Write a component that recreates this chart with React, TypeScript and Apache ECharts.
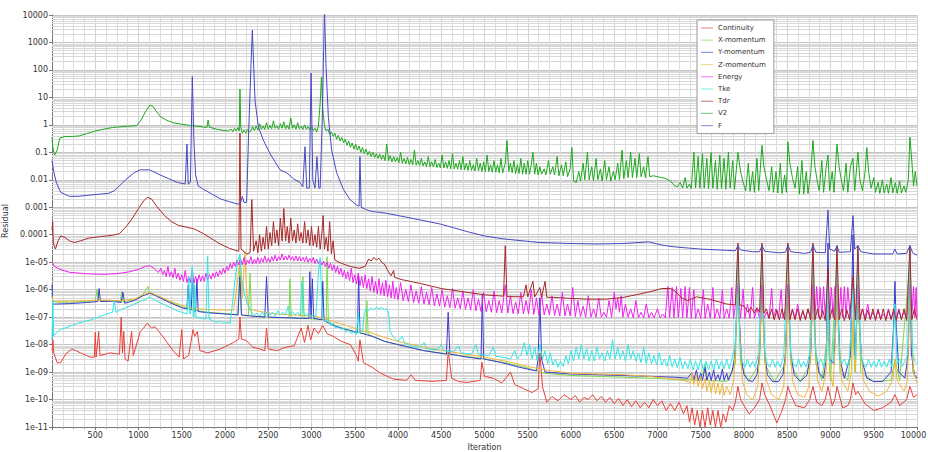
import React, { useEffect, useRef } from "react";
import * as echarts from "echarts";

type P = [number, number];

const seriesNames = ["Continuity", "X-momentum", "Y-momentum", "Z-momentum", "Energy", "Tke", "Tdr", "V2", "F"];
const seriesColors = ["#e8403a", "#7ad84a", "#3a3acc", "#f2b43a", "#ee22ee", "#30e6e6", "#a82828", "#1fa81f", "#4848c0"];

const continuity: P[] = [
  [0,6e-9],[10,1.5e-8],[20,5e-9],[60,2.2e-9],[100,2.2e-9],[160,4.6e-9],[230,7e-9],[330,5e-9],[440,3.5e-9],[490,3.5e-9],[500,2.8e-8],[510,3.5e-9],[540,3e-8],[555,4e-9],[670,5e-9],[780,4.5e-9],[800,1e-7],[815,5e-9],[830,3e-8],[845,3e-9],[880,2.5e-9],[920,3e-8],[940,4e-9],[1020,3e-8],[1060,4e-8],[1100,6e-8],[1150,4e-8],[1190,4.5e-8],[1280,2e-8],[1400,6e-9],[1470,3.5e-9],[1500,3.5e-8],[1520,3e-9],[1580,4e-9],[1630,3.5e-8],[1650,2e-8],[1680,3e-8],[1710,6e-9],[1800,5e-9],[1950,7e-9],[2100,1.2e-8],[2160,1.6e-8],[2173,1e-7],[2190,1.6e-8],[2250,1.4e-8],[2320,8e-9],[2400,7e-9],[2460,6e-9],[2480,4e-8],[2500,7e-9],[2600,6e-9],[2700,8e-9],[2800,9e-9],[2880,4e-8],[2920,1.2e-8],[2960,5e-8],[2990,1.5e-8],[3030,4e-8],[3080,2.5e-8],[3130,5e-8],[3180,2.5e-8],[3250,2e-8],[3350,1.3e-8],[3450,1e-8],[3520,4e-9],[3540,2.5e-9],[3560,1.5e-8],[3600,2.2e-9],[3700,1.5e-9],[3800,9e-10],[3950,5.5e-10],[4100,5e-10],[4150,8e-10],[4200,5e-10],[4400,4.6e-10],[4560,5e-10],[4580,6e-9],[4620,6e-10],[4700,4.5e-10],[4800,4.2e-10],[4950,5e-10],[4970,2.3e-9],[5000,7e-10],[5100,6e-10],[5200,4e-10],[5300,1e-9],[5350,3.5e-10],[5450,2.5e-10],[5550,1.8e-10],[5620,2.5e-10],[5640,5e-9],[5670,3e-10],[5720,8e-11],[5780,1.3e-10],[5850,9e-11],[5920,1.5e-10],[6000,1e-10],[6050,1.4e-10],[6100,8e-11],[6150,1.2e-10],[6200,1e-10],[6250,1.5e-10],[6300,9e-11],[6350,1.3e-10],[6400,8e-11],[6450,1.2e-10],[6500,7e-11],[6550,1.1e-10],[6600,6e-11],[6650,1e-10],[6700,5.5e-11],[6750,9e-11],[6800,5e-11],[6850,8e-11],[6900,5e-11],[6950,1e-10],[7000,6e-11],[7050,9e-11],[7100,4e-11],[7150,7e-11],[7200,4e-11],[7250,8e-11],[7300,3e-11],[7340,6e-11],[7370,1.5e-11],[7400,5e-11],[7430,1.2e-11],[7460,4e-11],[7490,1e-11],[7520,4e-11],[7550,1e-11],[7580,5e-11],[7610,1.2e-11],[7640,4e-11],[7670,1e-11],[7700,4e-11],[7730,1e-11],[7760,3e-11],[7790,1.5e-11],[7830,6e-11],[7870,4e-11],[7900,8e-11],[7930,3e-10],[7960,1e-10],[8000,6e-11],[8060,3e-11],[8120,5e-11],[8180,1e-10],[8208,4e-10],[8240,1.5e-10],[8300,6e-11],[8380,1.4e-11],[8440,4e-11],[8480,1e-10],[8508,3e-10],[8540,1.5e-10],[8600,6e-11],[8700,5e-11],[8760,1e-10],[8797,3e-10],[8840,8e-11],[8900,6e-11],[8940,1e-10],[8971,3e-10],[9020,6e-11],[9050,1e-10],[9075,3e-10],[9140,5e-11],[9200,6e-11],[9230,1e-10],[9260,4e-10],[9290,1.5e-10],[9317,2e-10],[9400,7e-11],[9500,4e-11],[9600,5e-11],[9700,8e-11],[9745,1.5e-10],[9800,6e-11],[9880,1e-10],[9918,3e-10],[9960,1.2e-10],[10000,1.5e-10]
];

const xMomentum: P[] = [
  [0,8e-7],[8,4e-7],[50,3.5e-7],[200,3.5e-7],[400,3.7e-7],[500,4e-7],[520,1e-6],[535,4e-7],[700,4e-7],[790,3.7e-7],[805,9e-7],[820,3.6e-7],[950,4.2e-7],[1050,6.5e-7],[1110,1.3e-6],[1125,8e-7],[1200,6.3e-7],[1350,3.7e-7],[1500,2.4e-7],[1600,1.9e-7],[1800,1.5e-7],[2000,1.35e-7],[2150,1.25e-7],[2173,1.6e-5],[2190,1.2e-7],[2270,1.1e-7],[2290,4e-6],[2305,1.1e-7],[2500,1e-7],[2740,9.5e-8],[2750,2.5e-6],[2765,9.5e-8],[2890,9e-8],[2900,3e-6],[2915,9e-8],[3170,8e-8],[3180,1.6e-5],[3195,7e-8],[3300,4.5e-8],[3500,3e-8],[3630,2.4e-8],[3640,4e-7],[3655,2.4e-8],[3850,1.3e-8],[4000,1e-8],[4300,6e-9],[4600,4.5e-9],[5000,3e-9],[5300,2e-9],[5500,1.4e-9],[5700,9e-10],[6000,7.5e-10],[6300,7e-10],[6600,6.5e-10],[6900,6e-10],[7200,5.5e-10],[7500,5e-10],[7550,2e-9],[7580,5e-10],[7800,4.5e-10],[7900,2e-9],[7930,1e-5],[7960,2e-9],[8050,4.5e-10],[8180,2e-9],[8208,1e-5],[8240,2e-9],[8350,4.5e-10],[8480,2e-9],[8508,1e-5],[8540,2e-9],[8650,4.5e-10],[8770,2e-9],[8797,1e-5],[8830,2e-9],[8900,5e-10],[8971,3e-8],[9000,5e-10],[9075,1e-5],[9110,1e-9],[9200,5e-10],[9260,3e-8],[9290,1e-9],[9317,5e-6],[9350,1e-9],[9500,4.5e-10],[9700,5e-10],[9745,3e-9],[9800,5e-10],[9918,1e-5],[9950,1e-9],[10000,6e-10]
];

const yMomentum: P[] = [
  [0,1.5e-6],[8,3e-7],[50,3e-7],[200,3.1e-7],[400,3.4e-7],[530,3.7e-7],[545,1.1e-6],[560,3.7e-7],[700,3.8e-7],[800,3.4e-7],[820,8e-7],[840,3.2e-7],[950,4e-7],[1050,6e-7],[1130,7.5e-7],[1200,6e-7],[1350,3.5e-7],[1500,2.2e-7],[1560,2e-7],[1575,1.5e-6],[1590,2e-7],[1610,1.8e-7],[1625,4.5e-6],[1640,1.7e-7],[1660,1.6e-7],[1675,2.5e-6],[1690,1.6e-7],[1800,1.45e-7],[2000,1.3e-7],[2150,1.2e-7],[2173,3e-6],[2190,1.2e-7],[2300,1.1e-7],[2460,1e-7],[2480,3e-6],[2500,1e-7],[2700,9.5e-8],[2900,9e-8],[2970,9e-8],[2980,4.5e-6],[2995,9e-8],[3010,2.5e-6],[3025,9e-8],[3120,8e-8],[3130,2e-6],[3145,7.5e-8],[3250,5e-8],[3400,3.5e-8],[3530,2.8e-8],[3545,3e-6],[3560,2.7e-8],[3700,2e-8],[3850,1.3e-8],[4000,1e-8],[4300,6e-9],[4560,4.5e-9],[4580,1.5e-7],[4600,4.5e-9],[4800,3.5e-9],[4960,3e-9],[4975,7e-7],[4990,3e-9],[5200,2.2e-9],[5400,1.5e-9],[5600,1.1e-9],[5620,3e-9],[5640,5e-7],[5660,3e-9],[5700,1e-9],[6000,8.5e-10],[6300,8e-10],[6600,7.5e-10],[6900,7e-10],[7200,6.5e-10],[7350,6e-10],[7400,1e-9],[7420,5e-10],[7450,1.2e-9],[7470,5e-10],[7500,9e-10],[7520,5e-10],[7550,1.5e-9],[7570,5e-10],[7600,1e-9],[7620,5e-10],[7650,1.2e-9],[7670,5e-10],[7700,8e-10],[7720,5e-10],[7750,1.3e-9],[7770,5e-10],[7800,9e-10],[7820,5e-10],[7860,1e-9],[7890,3e-9],[7915,1e-7],[7930,3e-5],[7945,1e-7],[7970,3e-9],[8000,8e-10],[8050,5e-10],[8100,4.5e-10],[8150,8e-10],[8180,5e-9],[8198,2e-7],[8208,2e-5],[8218,2e-7],[8240,5e-9],[8270,8e-10],[8330,4.5e-10],[8400,4.5e-10],[8450,8e-10],[8480,5e-9],[8498,2e-7],[8508,2e-5],[8518,2e-7],[8540,5e-9],[8580,8e-10],[8650,4.5e-10],[8730,8e-10],[8770,5e-9],[8787,2e-7],[8797,2e-5],[8807,2e-7],[8830,5e-9],[8870,9e-10],[8920,6e-10],[8950,3e-9],[8971,5e-5],[8990,3e-9],[9040,2e-9],[9065,2e-7],[9075,1e-5],[9085,2e-7],[9110,3e-9],[9160,6e-10],[9230,4e-9],[9260,1e-4],[9280,4e-9],[9305,1e-7],[9317,1e-5],[9330,1e-7],[9360,3e-9],[9420,6e-10],[9500,4.5e-10],[9600,4.5e-10],[9700,1e-9],[9730,5e-8],[9745,2e-6],[9760,5e-8],[9790,1e-9],[9860,6e-10],[9900,5e-9],[9918,2e-5],[9935,5e-9],[9970,8e-10],[10000,6e-10]
];

const zMomentum: P[] = [
  [0,6e-7],[8,4e-7],[50,3.8e-7],[200,3.8e-7],[400,4e-7],[600,4.2e-7],[800,4e-7],[950,4.5e-7],[1050,6.5e-7],[1130,8e-7],[1200,6.5e-7],[1350,4e-7],[1500,2.7e-7],[1600,2.2e-7],[1700,2e-7],[1800,1.9e-7],[2000,1.8e-7],[2100,1.8e-7],[2173,1e-5],[2200,5e-7],[2230,2.5e-5],[2250,8e-7],[2280,2e-7],[2400,1.6e-7],[2600,1.3e-7],[2800,1.2e-7],[3000,1.1e-7],[3100,1e-7],[3250,7e-8],[3400,5e-8],[3550,3.5e-8],[3700,2.6e-8],[3850,1.8e-8],[4000,1.3e-8],[4300,8e-9],[4600,5.5e-9],[5000,3.5e-9],[5300,2.3e-9],[5500,1.6e-9],[5700,1.2e-9],[6000,9e-10],[6300,8.5e-10],[6600,8e-10],[6900,7e-10],[7100,6e-10],[7300,5e-10],[7380,4e-10],[7400,1e-9],[7420,3.5e-10],[7450,8e-10],[7470,3e-10],[7500,7e-10],[7520,2.5e-10],[7550,6e-10],[7570,2e-10],[7600,5e-10],[7620,1.8e-10],[7650,5e-10],[7670,1.6e-10],[7700,4e-10],[7720,1.5e-10],[7750,4e-10],[7770,1.4e-10],[7800,3e-10],[7840,1.5e-10],[7880,5e-10],[7910,3e-8],[7930,1e-5],[7950,3e-8],[7980,5e-10],[8030,1.5e-10],[8100,1e-10],[8160,3e-10],[8190,3e-8],[8208,1e-5],[8225,3e-8],[8260,5e-10],[8320,1.5e-10],[8400,1e-10],[8460,3e-10],[8490,3e-8],[8508,1e-5],[8525,3e-8],[8560,5e-10],[8620,1.5e-10],[8700,1.2e-10],[8750,3e-10],[8780,3e-8],[8797,1e-5],[8815,3e-8],[8850,5e-10],[8900,2e-10],[8950,1e-9],[8971,1e-7],[8990,1e-9],[9030,3e-10],[9060,3e-8],[9075,1e-5],[9090,3e-8],[9130,5e-10],[9200,2e-10],[9240,1e-9],[9260,1e-7],[9280,1e-9],[9300,3e-8],[9317,1e-5],[9335,3e-8],[9380,5e-10],[9450,2e-10],[9550,1.3e-10],[9650,2e-10],[9720,5e-10],[9745,3e-9],[9770,5e-10],[9850,2e-10],[9890,5e-10],[9905,3e-8],[9918,1e-5],[9935,3e-8],[9960,1e-9],[10000,4e-10]
];

const energy: P[] = [
  [0,1e-5],[30,7e-6],[90,5.5e-6],[200,4.3e-6],[400,3.8e-6],[600,3.6e-6],[800,4e-6],[900,4.5e-6],[1000,5.5e-6],[1080,7e-6],[1130,7.5e-6],[1180,6e-6],[1230,4.2e-6],
  [1260,6e-6],[1280,3.5e-6],[1300,5e-6],[1320,3e-6],[1340,7e-6],[1360,3e-6],[1380,4.5e-6],[1400,2.7e-6],[1420,6e-6],[1440,2.5e-6],[1460,4e-6],[1480,2.2e-6],[1500,3.5e-6],[1520,2e-6],[1540,5e-6],[1560,1.8e-6],[1580,3e-6],[1600,1.8e-6],[1620,5e-6],[1640,1.7e-6],[1660,3e-6],[1680,1.8e-6],[1700,3.5e-6],[1720,2e-6],[1740,3.2e-6],[1760,2e-6],[1780,4e-6],[1800,2.2e-6],[1820,3.5e-6],[1840,2.4e-6],[1860,4e-6],[1880,2.7e-6],[1900,4.5e-6],[1920,3e-6],[1940,5e-6],[1960,3.5e-6],[1980,6e-6],[2000,4e-6],[2020,7e-6],[2040,5e-6],[2060,9e-6],[2080,6e-6],[2100,1e-5],[2120,7e-6],[2140,1.2e-5],[2160,8e-6],
  [2180,1.3e-5],[2200,8e-6],[2220,1.5e-5],[2240,8e-6],[2260,1.2e-5],[2280,9e-6],[2300,1.6e-5],[2320,8.5e-6],[2340,1.3e-5],[2360,9e-6],[2380,1.5e-5],[2400,9e-6],[2420,1.4e-5],[2440,1e-5],[2460,1.7e-5],[2480,1e-5],[2500,1.4e-5],[2520,1e-5],[2540,1.6e-5],[2560,1.1e-5],[2580,1.8e-5],[2600,1.1e-5],[2620,1.6e-5],[2640,1.2e-5],[2660,2e-5],[2680,1.2e-5],[2700,1.7e-5],[2720,1.2e-5],[2740,1.8e-5],[2760,1.2e-5],[2780,1.6e-5],[2800,1.1e-5],[2820,1.7e-5],[2840,1.1e-5],[2860,1.6e-5],[2880,1.1e-5],[2900,1.5e-5],[2920,1.05e-5],[2940,1.6e-5],[2960,1e-5],[2980,1.4e-5],[3000,1e-5],[3020,1.5e-5],[3040,9e-6],[3060,1.3e-5],[3080,9e-6],[3100,1.2e-5],[3120,8e-6],[3140,1.1e-5],[3160,7e-6],[3180,1e-5],[3200,6e-6],[3220,9e-6],[3240,5e-6],[3260,8e-6],[3280,4.2e-6],[3300,7e-6],[3320,3.6e-6],[3340,6e-6],[3360,3e-6],[3380,5e-6],[3400,2.5e-6],[3420,4.5e-6],[3440,2.1e-6],[3460,6e-6],[3480,1.8e-6],[3500,3.5e-6],[3520,1.6e-6],[3540,4e-6],[3560,1.4e-6],[3580,3e-6],[3600,1.2e-6],[3620,3.5e-6],[3640,1.1e-6],[3660,2.5e-6],[3680,9e-7],[3700,3e-6],[3720,8e-7],[3740,2e-6],[3760,7e-7],[3780,2.5e-6],[3800,6.5e-7],[3820,1.8e-6],[3840,6e-7],[3860,2.2e-6],[3880,5.5e-7],[3900,1.5e-6],[3920,5e-7],[3940,2e-6],[3960,4.6e-7],[3980,1.2e-6],[4000,4.3e-7],[4030,1.8e-6],[4060,4e-7],[4090,1e-6],[4120,3.7e-7],[4150,1.5e-6],[4180,3.4e-7],[4210,9e-7],[4240,3.2e-7],[4270,1.3e-6],[4300,3e-7],[4330,8e-7],[4360,2.8e-7],[4390,1.2e-6],[4420,2.6e-7],[4450,7e-7],[4480,2.5e-7],[4510,1e-6],[4540,2.3e-7],[4570,6e-7],[4600,2.2e-7],[4630,1.1e-6],[4660,2.1e-7],[4690,5e-7],[4720,2e-7],[4750,9e-7],[4780,1.9e-7],[4810,5e-7],[4840,1.8e-7],[4870,1e-6],[4900,1.7e-7],[4930,4.5e-7],[4960,1.6e-7],[4990,8e-7],[5020,1.55e-7],[5050,4e-7],[5080,1.5e-7],[5110,9e-7],[5140,1.45e-7],[5170,4e-7],[5200,1.4e-7],[5240,1.5e-6],[5270,1.4e-7],[5300,6e-7],[5330,1.35e-7],[5360,3.5e-7],[5390,1.3e-7],[5420,8e-7],[5450,1.3e-7],[5480,4e-7],[5510,1.3e-7],[5540,1e-6],[5570,1.25e-7],[5600,5e-7],[5630,1.2e-7],[5660,7e-7],[5690,1.2e-7],[5720,3e-7],[5750,1.2e-7],[5780,6e-7],[5810,1.15e-7],[5840,3e-7],[5870,1.1e-7],[5900,8e-7],[5930,1.1e-7],[5960,3e-7],[5990,1.1e-7],[6020,1.2e-6],[6050,1.05e-7],[6080,4e-7],[6110,1.05e-7],[6140,2.5e-7],[6170,1e-7],[6200,6e-7],[6230,1e-7],[6260,2e-7],[6290,1e-7],[6320,5e-7],[6350,1e-7],[6380,1.5e-7],[6410,1e-7],[6440,4e-7],[6470,1e-7],[6500,8e-7],[6520,2e-7],[6540,5e-7],[6560,1.5e-7],[6580,6e-7],[6600,1e-7],[6630,3e-7],[6660,1e-7],[6690,2e-7],[6720,9.5e-8],[6750,4e-7],[6780,9.5e-8],[6810,1.5e-7],[6840,9.5e-8],[6870,3e-7],[6900,9.5e-8],[6930,1.5e-7],[6960,9.5e-8],[7000,2e-7],[7030,9.5e-8],[7060,1.3e-7],[7090,9.5e-8],[7120,1.3e-6],[7140,9.5e-8],[7170,1.2e-6],[7190,9.5e-8],[7220,1.3e-6],[7240,9.5e-8],[7270,1.1e-6],[7290,9.5e-8],[7320,1.3e-6],[7340,9.5e-8],[7370,1.2e-6],[7390,9e-8],[7420,1e-6],[7440,9e-8],[7470,2e-7],[7500,9e-8],[7530,1e-6],[7550,9e-8],[7580,3e-7],[7610,9e-8],[7640,1.2e-6],[7660,9e-8],[7690,2e-7],[7720,9e-8],[7750,1e-6],[7770,9e-8],[7800,2e-7],[7830,9e-8],[7860,1.2e-6],[7880,9e-8],[7930,1.5e-6],[7960,9e-8],[7990,1e-6],[8010,9e-8],[8040,3e-7],[8070,9e-8],[8100,1.2e-6],[8120,9e-8],[8150,2e-7],[8180,9e-8],[8208,1.5e-6],[8230,9e-8],[8260,1.5e-7],[8290,9e-8],[8320,1.1e-6],[8340,9e-8],[8370,2e-7],[8400,9e-8],[8430,1e-6],[8450,9e-8],[8480,2e-7],[8508,1.5e-6],[8530,9e-8],[8560,2e-7],[8590,9e-8],[8620,3e-7],[8650,9e-8],[8680,1.5e-7],[8710,9e-8],[8740,2e-7],[8770,9e-8],[8797,1.5e-6],[8820,9e-8],[8840,1.3e-6],[8860,1e-7],[8880,1.2e-6],[8900,1e-7],[8920,1.3e-6],[8940,1e-7],[8971,1.3e-6],[8990,1e-7],[9010,1.2e-6],[9030,1e-7],[9050,1.3e-6],[9075,1.5e-6],[9100,1e-7],[9120,1.2e-6],[9140,1e-7],[9160,1.3e-6],[9180,1e-7],[9200,1.2e-6],[9230,9e-8],[9260,2e-6],[9290,9e-8],[9317,1.5e-6],[9340,9e-8],[9370,2e-7],[9400,9e-8],[9430,3e-7],[9460,9e-8],[9490,1.5e-7],[9520,9e-8],[9550,2e-7],[9580,9e-8],[9610,1.3e-7],[9640,9e-8],[9670,2e-7],[9700,9e-8],[9730,1.5e-7],[9760,9e-8],[9790,2e-7],[9820,9e-8],[9850,1.5e-7],[9880,9e-8],[9918,1.5e-6],[9940,1e-7],[9960,1.3e-6],[9975,1e-7],[9990,1.2e-6],[10000,1e-7]
];

const tke: P[] = [
  [0,1.5e-8],[10,4e-7],[20,2e-8],[40,2.5e-8],[90,3.5e-8],[150,4e-8],[300,6e-8],[450,8e-8],[600,1.2e-7],[700,1.5e-7],[720,4e-7],[740,1.5e-7],[780,1.8e-7],[900,2.5e-7],[1000,3.5e-7],[1080,4.5e-7],[1130,5.5e-7],[1200,4e-7],[1300,2.8e-7],[1450,1.7e-7],[1560,1.3e-7],[1580,3e-6],[1595,1.3e-7],[1620,7e-6],[1640,1e-7],[1650,1.5e-6],[1665,1e-7],[1780,8.5e-8],[1800,1.7e-5],[1815,8.5e-8],[1900,6.5e-8],[1950,7e-8],[1980,6e-8],[2020,6.5e-8],[2060,6e-8],[2090,4e-7],[2120,3e-6],[2150,1.2e-5],[2173,2e-5],[2190,3e-6],[2220,8e-7],[2260,3e-7],[2300,1.6e-7],[2340,1.2e-7],
  [2370,1.4e-7],[2400,1.1e-7],[2430,1.5e-7],[2460,1.1e-7],[2490,1.6e-7],[2520,1.2e-7],[2550,1.5e-7],[2580,1.1e-7],[2610,1.7e-7],[2640,1.2e-7],[2670,1.5e-7],[2700,1.2e-7],[2730,2.5e-7],[2750,1.2e-7],[2780,1.6e-7],[2810,1.2e-7],[2840,1.5e-7],[2870,1.1e-7],[2890,2e-6],[2905,1.6e-7],[2930,1.1e-7],[2960,1.4e-7],[2990,1e-7],[3020,1.3e-7],[3050,1e-7],[3080,4e-6],[3100,1.5e-5],[3115,1e-6],[3130,9e-8],[3160,7e-8],[3190,8e-8],[3220,5e-8],[3250,6e-8],[3280,4e-8],[3310,5e-8],[3340,3.5e-8],[3370,4e-8],[3400,2.8e-8],[3430,3.5e-8],[3460,2.5e-8],[3490,3e-8],[3520,2.3e-8],[3540,1.5e-7],[3560,2.5e-8],[3590,3e-8],[3610,1.5e-7],[3630,2e-7],[3660,1.7e-7],[3690,2.2e-7],[3720,1.8e-7],[3750,2.3e-7],[3780,2e-7],[3810,2.2e-7],[3840,1.9e-7],[3870,2e-7],[3890,1.5e-7],[3910,3e-8],[3940,2e-8],[3970,1.6e-8],[4000,1.3e-8],[4050,2e-8],[4080,1.1e-8],[4150,9e-9],[4250,8e-9],[4300,1.2e-8],[4330,7e-9],[4450,6.5e-9],[4500,1e-8],[4530,6e-9],[4640,5.5e-9],[4700,9e-9],[4730,5e-9],[4850,4.5e-9],[4900,1e-8],[4930,4.5e-9],[5050,4e-9],[5100,8e-9],[5130,3.8e-9],[5250,3.3e-9],[5300,3e-9],[5350,6e-9],[5380,3e-9],[5420,4e-9],[5460,1.2e-8],[5490,4e-9],[5520,1e-8],[5550,3e-9],[5580,8e-9],[5610,2.5e-9],[5640,1e-8],[5670,3e-9],[5700,6e-9],[5730,2e-9],[5760,5e-9],[5790,1.8e-9],[5820,3e-9],[5850,1.5e-9],[5880,2.5e-9],[5910,1.6e-9],[5940,4e-9],[5970,2e-9],[6000,6e-9],[6030,2.5e-9],[6060,8e-9],[6090,3e-9],[6120,1e-8],[6150,3e-9],[6180,7e-9],[6210,2.5e-9],[6240,6e-9],[6270,2.5e-9],[6300,8e-9],[6330,3e-9],[6360,5e-9],[6390,2.5e-9],[6420,6e-9],[6450,3e-9],[6480,1.5e-8],[6510,3e-9],[6540,8e-9],[6570,3e-9],[6600,6e-9],[6630,2.5e-9],[6660,1e-8],[6690,3e-9],[6720,6e-9],[6750,2.5e-9],[6780,5e-9],[6810,2.2e-9],[6840,8e-9],[6870,2e-9],[6900,5e-9],[6930,2e-9],[6960,4e-9],[6990,1.8e-9],[7020,5e-9],[7050,1.8e-9],[7080,3e-9],[7110,1.6e-9],[7140,4e-9],[7170,1.5e-9],[7200,3e-9],[7230,1.4e-9],[7260,3.5e-9],[7290,1.3e-9],[7320,2.5e-9],[7350,1.3e-9],[7380,3e-9],[7410,1.2e-9],[7440,2.5e-9],[7470,1.2e-9],[7500,3e-9],[7530,1.2e-9],[7560,2.5e-9],[7590,1.2e-9],[7620,2.5e-9],[7650,1.2e-9],[7680,3e-9],[7710,1.3e-9],[7740,2.5e-9],[7770,1.3e-9],[7800,3e-9],[7830,1.3e-9],[7860,3e-9],[7900,1e-8],[7930,3e-5],[7950,1e-8],[7980,2.5e-9],[8010,1.5e-9],[8040,3e-9],[8070,1.5e-9],[8100,2.5e-9],[8130,1.5e-9],[8170,5e-9],[8208,3e-5],[8240,5e-9],[8270,2e-9],[8300,1.5e-9],[8330,3e-9],[8360,1.5e-9],[8390,2.5e-9],[8420,1.5e-9],[8460,4e-9],[8508,3e-5],[8540,5e-9],[8570,2e-9],[8600,1.5e-9],[8630,3e-9],[8660,1.5e-9],[8690,2.5e-9],[8720,1.5e-9],[8760,5e-9],[8797,3e-5],[8830,5e-9],[8860,2e-9],[8890,3e-9],[8920,1.5e-9],[8950,3e-9],[8971,2e-6],[8990,2e-9],[9030,2.5e-9],[9075,3e-5],[9100,4e-9],[9130,2e-9],[9160,3e-9],[9190,1.6e-9],[9220,3e-9],[9260,2e-6],[9290,3e-9],[9317,3e-5],[9350,4e-9],[9380,2e-9],[9410,1.5e-9],[9440,3e-9],[9470,1.5e-9],[9500,2.5e-9],[9530,1.5e-9],[9560,3e-9],[9590,1.5e-9],[9620,2.5e-9],[9650,1.5e-9],[9680,3e-9],[9710,1.6e-9],[9745,3e-7],[9770,2e-9],[9800,3e-9],[9830,1.6e-9],[9860,2.5e-9],[9890,4e-9],[9918,3e-5],[9950,5e-9],[9975,2.5e-9],[10000,2e-9]
];

const tdr: P[] = [
  [0,1.5e-4],[8,3e-4],[15,5e-5],[40,3e-5],[70,6e-5],[100,9e-5],[150,8e-5],[200,6e-5],[260,5.2e-5],[330,6e-5],[420,7.5e-5],[550,8.5e-5],[700,9.5e-5],[780,1.1e-4],[860,2e-4],[930,4e-4],[1000,9e-4],[1060,1.7e-3],[1100,2.3e-3],[1150,2e-3],[1220,1e-3],[1300,5e-4],[1380,3e-4],[1460,2.2e-4],[1550,1.9e-4],[1650,1.6e-4],[1750,1.1e-4],[1850,7e-5],[1950,4.5e-5],[2050,3.2e-5],[2140,2.6e-5],[2160,2.5e-5],[2173,0.5],[2185,3e-5],[2250,2e-5],[2290,2.2e-5],[2310,1.9e-3],[2330,2.5e-5],
  [2360,6e-5],[2380,2.2e-5],[2400,1e-4],[2420,2.5e-5],[2440,8e-5],[2460,3e-5],[2480,2e-4],[2500,3e-5],[2520,1.2e-4],[2540,4e-5],[2560,3e-4],[2580,5e-5],[2600,1.5e-4],[2620,4e-5],[2640,4e-4],[2660,6e-5],[2680,9e-4],[2700,6e-5],[2720,2e-4],[2740,5e-5],[2760,4e-4],[2780,6e-5],[2800,1.5e-4],[2820,5e-5],[2840,2.5e-4],[2860,6e-5],[2880,1.2e-4],[2900,5e-5],[2920,3e-4],[2940,5e-5],[2960,1.5e-4],[2980,4e-5],[3000,2e-4],[3020,4e-5],[3040,1e-4],[3060,3.5e-5],[3080,2e-4],[3100,3e-5],[3120,1.2e-4],[3135,5e-4],[3150,3e-5],[3170,8e-5],[3190,2.5e-5],[3210,3e-4],[3230,2e-5],[3250,6e-5],[3270,1.2e-5],
  [3350,9e-6],[3450,7e-6],[3550,6e-6],[3620,7e-6],[3660,1.3e-5],[3690,1.1e-5],[3720,1.5e-5],[3750,1.2e-5],[3780,1.4e-5],[3810,1e-5],[3850,8e-6],[3880,5e-6],[3920,3.2e-6],[3950,5e-6],[3960,2.8e-6],[4050,2.3e-6],[4250,1.7e-6],[4500,1.1e-6],[4800,8e-7],[5000,6.5e-7],[5220,5.8e-7],[5240,4e-5],[5260,5.6e-7],[5450,5.5e-7],[5480,1.5e-6],[5500,5.5e-7],[5560,2e-6],[5580,5.4e-7],[5640,1.2e-6],[5660,5.3e-7],[5700,2e-6],[5720,5.3e-7],[5800,5.2e-7],[6000,4.8e-7],[6200,4.5e-7],[6400,4.5e-7],[6600,5.2e-7],[6800,7e-7],[6950,9e-7],[7050,1.1e-6],[7150,1.1e-6],[7200,9e-7],[7280,5e-7],[7350,4e-7],[7450,5.5e-7],[7600,4.5e-7],[7800,3e-7],[7900,2.8e-7],[7930,5e-5],[7950,2.8e-7],[8000,2.5e-7],[8050,1.5e-7],[8080,2.3e-7],[8120,1.4e-7],[8150,2.2e-7],[8180,1.5e-7],[8208,5e-5],[8230,1.4e-7],
  [8260,2e-7],[8290,9e-8],[8320,2e-7],[8350,8e-8],[8380,1.8e-7],[8410,8e-8],[8440,2e-7],[8470,8e-8],[8508,5e-5],[8530,8e-8],[8560,1.8e-7],[8590,8e-8],[8620,2e-7],[8650,7.5e-8],[8680,1.8e-7],[8710,8e-8],[8740,2e-7],[8770,8e-8],[8797,5e-5],[8820,8e-8],[8850,2e-7],[8880,8e-8],[8910,1.8e-7],[8940,7.5e-8],[8971,6e-6],[8990,8e-8],[9020,2e-7],[9050,8e-8],[9075,4e-5],[9100,8e-8],[9130,2e-7],[9160,7.5e-8],[9190,1.8e-7],[9220,8e-8],[9260,3e-6],[9290,8e-8],[9317,4e-5],[9340,8e-8],[9370,2e-7],[9400,7.5e-8],[9430,1.8e-7],[9460,8e-8],[9490,2e-7],[9520,7.5e-8],[9550,1.8e-7],[9580,8e-8],[9610,2e-7],[9640,7.5e-8],[9670,1.8e-7],[9700,8e-8],[9730,2e-7],[9760,7.5e-8],[9790,1.8e-7],[9820,8e-8],[9850,2e-7],[9880,7.5e-8],[9918,4e-5],[9940,8e-8],[9970,2e-7],[10000,8e-8]
];

const v2: P[] = [
  [0,0.35],[10,0.15],[30,0.08],[60,0.12],[90,0.33],[150,0.38],[250,0.38],[320,0.4],[400,0.48],[500,0.6],[600,0.7],[700,0.8],[800,0.86],[900,0.9],[980,0.95],[1030,1.5],[1080,3],[1130,5.2],[1170,4.6],[1210,3],[1260,1.9],[1320,1.5],[1400,1.2],[1500,1.05],[1600,0.95],[1700,0.88],[1790,0.8],[1805,1.5],[1820,0.82],[1900,0.7],[1980,0.62],[2040,0.6],
  [2070,0.7],[2090,0.55],[2110,0.75],[2130,0.6],[2150,0.8],[2165,0.6],[2173,20],[2182,0.8],[2200,0.5],[2220,0.65],[2240,0.5],[2260,0.7],[2280,0.55],[2300,0.6],
  [2320,0.85],[2340,0.62],[2360,0.9],[2380,0.65],[2400,1.1],[2420,0.7],[2440,0.9],[2460,0.68],[2480,1.2],[2500,0.7],[2520,0.95],[2540,0.72],[2560,1.4],[2580,0.75],[2600,0.9],[2620,0.7],[2640,1.1],[2660,0.75],[2680,1.3],[2700,0.72],[2720,0.95],[2740,0.7],[2760,1.8],[2780,0.75],[2800,1.0],[2820,0.7],[2840,1.2],[2860,0.72],[2880,0.9],[2900,0.68],[2920,1.0],[2940,0.7],[2960,0.85],[2980,0.65],[3000,0.9],[3020,0.62],[3040,0.75],[3060,0.55],[3080,0.9],[3100,6],[3115,55],[3130,4],[3150,0.9],[3170,0.6],[3190,0.7],[3210,0.45],[3230,0.55],[3250,0.38],[3270,0.5],[3290,0.3],[3310,0.42],[3330,0.26],[3350,0.35],[3370,0.22],[3390,0.3],[3410,0.18],[3430,0.26],[3450,0.15],[3470,0.22],[3490,0.13],[3510,0.2],[3530,0.12],[3550,0.17],[3570,0.1],[3590,0.15],[3610,0.09],[3630,0.13],[3650,0.08],[3670,0.11],[3690,0.07],[3710,0.1],[3730,0.065],[3750,0.09],[3770,0.06],[3790,0.085],[3810,0.055],[3830,0.08],[3850,0.05],[3870,0.2],[3890,0.05],[3910,0.075],[3930,0.045],[3950,0.07],[3970,0.045],[3990,0.065],[4010,0.042],[4030,0.1],[4050,0.04],[4070,0.06],[4090,0.038],[4110,0.065],[4130,0.036],[4150,0.055],[4170,0.035],[4190,0.12],[4210,0.034],[4230,0.05],[4250,0.033],[4270,0.06],[4290,0.032],[4310,0.045],[4330,0.03],[4350,0.07],[4370,0.03],[4390,0.045],[4410,0.029],[4430,0.055],[4450,0.028],[4470,0.04],[4490,0.027],[4510,0.08],[4530,0.027],[4550,0.045],[4570,0.026],[4590,0.05],[4610,0.025],[4630,0.09],[4650,0.025],[4670,0.04],[4690,0.024],[4710,0.05],[4730,0.023],[4750,0.07],[4770,0.023],[4790,0.04],[4810,0.022],[4830,0.05],[4850,0.022],[4870,0.035],[4890,0.021],[4910,0.06],[4930,0.021],[4950,0.04],[4970,0.02],[4990,0.045],[5010,0.02],[5030,0.08],[5050,0.02],[5070,0.035],[5090,0.019],[5110,0.05],[5130,0.019],[5150,0.035],[5170,0.018],[5190,0.06],[5210,0.018],[5240,0.04],[5260,0.27],[5280,0.02],[5300,0.04],[5320,0.018],[5340,0.05],[5360,0.017],[5380,0.035],[5400,0.017],[5420,0.06],[5440,0.016],[5460,0.04],[5480,0.016],[5500,0.05],[5520,0.016],[5540,0.035],[5560,0.1],[5580,0.016],[5600,0.04],[5620,0.015],[5640,0.03],
  [5660,0.016],[5690,0.025],[5710,0.015],[5740,0.05],[5760,0.016],[5790,0.03],[5810,0.015],[5840,0.07],[5860,0.014],[5890,0.035],[5910,0.014],[5940,0.045],[5960,0.013],[5990,0.025],[6010,0.15],[6030,0.009],[6060,0.008],[6090,0.02],[6110,0.009],[6140,0.04],[6160,0.01],[6190,0.1],[6210,0.01],[6240,0.03],[6260,0.009],[6290,0.06],[6310,0.01],[6340,0.025],[6360,0.009],[6390,0.05],[6410,0.01],[6440,0.03],[6460,0.009],[6490,0.02],[6510,0.01],[6540,0.04],[6560,0.01],[6590,0.12],[6610,0.011],[6640,0.05],[6660,0.012],[6690,0.1],[6710,0.012],[6740,0.06],[6760,0.012],[6790,0.09],[6810,0.013],[6840,0.03],[6860,0.012],[6890,0.07],[6910,0.013],[6950,0.014],[7000,0.013],[7050,0.012],[7100,0.011],[7150,0.009],[7200,0.006],[7230,0.0055],[7260,0.008],[7290,0.005],[7320,0.012],[7340,0.005],[7370,0.007],[7390,0.0048],[7420,0.1],[7440,0.005],[7470,0.07],[7490,0.005],[7520,0.09],[7540,0.005],[7570,0.06],[7590,0.0048],[7620,0.1],[7640,0.005],[7670,0.05],[7690,0.0045],[7720,0.08],[7740,0.0048],[7770,0.06],[7790,0.0045],[7820,0.1],[7840,0.005],[7870,0.05],[7890,0.0045],[7930,0.1],[7960,0.02],[7990,0.008],[8020,0.004],[8050,0.04],[8070,0.0038],[8100,0.02],[8120,0.0035],[8150,0.06],[8170,0.004],[8208,0.18],[8230,0.03],[8260,0.01],[8290,0.004],[8320,0.03],[8340,0.0035],[8370,0.02],[8390,0.0033],[8420,0.04],[8440,0.0032],[8470,0.015],[8490,0.0035],[8508,0.24],[8530,0.04],[8560,0.012],[8590,0.005],[8620,0.03],[8640,0.003],[8670,0.05],[8690,0.003],[8720,0.02],[8740,0.0032],[8770,0.015],[8797,0.27],[8820,0.03],[8850,0.008],[8870,0.004],[8900,0.05],[8920,0.0035],[8950,0.03],[8971,0.08],[8990,0.004],[9020,0.02],[9040,0.0035],[9075,0.2],[9100,0.03],[9130,0.008],[9150,0.004],[9180,0.04],[9200,0.0035],[9230,0.03],[9260,0.06],[9280,0.004],[9317,0.1],[9340,0.01],[9370,0.004],[9400,0.02],[9420,0.15],[9440,0.02],[9470,0.005],[9500,0.012],[9520,0.0035],[9550,0.008],[9570,0.0032],[9600,0.01],[9620,0.0033],[9650,0.007],[9670,0.0032],[9700,0.012],[9720,0.0033],[9750,0.008],[9770,0.0032],[9800,0.009],[9820,0.0033],[9850,0.006],[9870,0.0035],[9900,0.01],[9918,0.36],[9940,0.05],[9960,0.006],[9980,0.02],[10000,0.006]
];

const fRes: P[] = [
  [0,0.05],[20,0.02],[50,0.008],[100,0.0035],[200,0.0025],[300,0.0025],[400,0.0027],[550,0.003],[650,0.0032],[720,0.004],[780,0.006],[850,0.01],[950,0.018],[1020,0.023],[1130,0.023],[1250,0.015],[1350,0.011],[1450,0.008],[1540,0.007],[1560,0.2],[1575,0.007],[1600,0.008],[1622,57],[1640,0.3],[1660,0.015],[1690,0.006],[1750,0.0045],[1850,0.003],[1950,0.002],[2050,0.0016],[2150,0.0013],[2180,0.0015],[2200,0.0025],[2220,0.0015],[2250,0.0015],[2273,0.5],[2300,130],[2316,2800],[2347,8],[2385,0.85],[2443,0.28],[2520,0.09],[2636,0.023],[2713,0.018],[2790,0.011],[2867,0.008],[2900,0.0055],[2925,0.16],[2945,0.005],[2975,0.005],[2995,77],[3015,0.01],[3040,0.005],[3063,0.07],[3085,0.005],[3100,0.005],[3125,2],[3140,500],[3150,15000],[3168,130],[3195,1.9],[3233,0.12],[3291,0.018],[3368,0.0045],[3445,0.0019],[3522,0.0012],[3550,0.0011],[3560,0.07],[3575,0.001],[3640,0.0008],[3700,0.0007],[3800,0.00065],[3870,0.0006],[4000,0.0005],[4250,0.00035],[4500,0.00024],[4640,0.00018],[4800,0.00013],[5000,9e-5],[5200,7.2e-5],[5330,6.5e-5],[5640,5.2e-5],[6000,4.8e-5],[6300,4.6e-5],[6600,4.8e-5],[6900,5.5e-5],[7050,4.2e-5],[7200,3.6e-5],[7500,3e-5],[7800,2.7e-5],[7900,2.6e-5],[7930,4e-5],[7960,2.8e-5],[8100,2.4e-5],[8180,2.4e-5],[8208,4e-5],[8240,2.5e-5],[8400,2.2e-5],[8480,2.3e-5],[8508,4.2e-5],[8540,2.4e-5],[8700,2.1e-5],[8770,2.3e-5],[8797,4.2e-5],[8830,2.3e-5],[8940,2.2e-5],[8971,8e-4],[8990,3e-5],[9050,2.5e-5],[9075,4e-5],[9100,2.3e-5],[9230,2.4e-5],[9260,5e-4],[9280,3e-5],[9317,4e-5],[9350,2.4e-5],[9500,2e-5],[9720,2e-5],[9745,3e-5],[9770,2e-5],[9880,2.1e-5],[9918,4e-5],[9950,2.2e-5],[10000,1.8e-5]
];

const seriesData: P[][] = [continuity, xMomentum, yMomentum, zMomentum, energy, tke, tdr, v2, fRes];

// y axis: decades from 1e-11 to 1e4 (plotted on a log10 scale)
const yMinExp = -11;
const yMaxExp = 4;
const xMax = 10000;

function fmtExp(e: number): string {
  const k = Math.round(e);
  if (k >= 0) return String(Math.pow(10, k));
  if (k >= -4) return Math.pow(10, k).toFixed(-k);
  return "1e-" + String(-k).padStart(2, "0");
}

export default function App() {
  const ref = useRef<HTMLDivElement>(null);
  useEffect(() => {
    if (!ref.current) return;
    const chart = echarts.init(ref.current, undefined, { renderer: "svg" });
    const minorLines: { yAxis: number }[] = [];
    for (let k = yMinExp; k < yMaxExp; k++) {
      for (let m = 2; m <= 9; m++) minorLines.push({ yAxis: k + Math.log10(m) });
    }
    const font = "DejaVu Sans";
    const series: any[] = [
      {
        name: "__grid",
        type: "line",
        data: [],
        silent: true,
        z: 1,
        markLine: {
          silent: true,
          z: 1,
          symbol: ["none", "none"],
          label: { show: false },
          lineStyle: { color: "#d8d8d8", width: 1, type: "solid" },
          emphasis: { disabled: true },
          data: minorLines,
        },
      },
    ];
    seriesNames.forEach((name, i) => {
      series.push({
        name,
        type: "line",
        data: seriesData[i].map(([x, y]) => [x, Math.log10(y)]),
        showSymbol: false,
        symbol: "none",
        silent: true,
        z: 2 + i,
        lineStyle: { width: 1, color: seriesColors[i] },
        itemStyle: { color: seriesColors[i] },
        emphasis: { disabled: true },
      });
    });
    chart.setOption({
      animation: false,
      backgroundColor: "#ffffff",
      textStyle: { fontFamily: font },
      grid: { left: 52, right: 11, top: 15, bottom: 25, containLabel: false, outerBoundsMode: "none" },
      legend: {
        data: seriesNames.map((n) => ({ name: n, icon: "rect" })),
        orient: "vertical",
        left: 697,
        top: 20,
        z: 20,
        padding: [4, 8, 4, 4],
        itemWidth: 12,
        itemHeight: 1.2,
        itemGap: 4.2,
        backgroundColor: "#ffffff",
        borderColor: "#9a9a9a",
        borderWidth: 1,
        selectedMode: false,
        itemStyle: { opacity: 0.55 },
        textStyle: { fontSize: 7, lineHeight: 8, height: 8, color: "#333", fontFamily: font },
      },
      xAxis: {
        type: "value",
        min: 0,
        max: xMax,
        interval: 500,
        name: "Iteration",
        nameLocation: "middle",
        nameGap: 16,
        nameTextStyle: { fontSize: 8, color: "#333", fontFamily: font },
        axisLine: { show: true, onZero: false, lineStyle: { color: "#777" } },
        axisTick: { show: true, length: 3, lineStyle: { color: "#777" } },
        minorTick: { show: true, splitNumber: 4, length: 2, lineStyle: { color: "#999" } },
        axisLabel: {
          fontSize: 8,
          color: "#333",
          margin: 4,
          fontFamily: font,
          formatter: (v: number) => (v === 0 ? "" : v === xMax ? "{last|" + v + "}" : String(v)),
          rich: { last: { fontSize: 8, color: "#333", fontFamily: font, padding: [0, 7, 0, 0] } },
        },
        splitLine: { show: true, lineStyle: { color: "#d2d2d2", width: 1 } },
        minorSplitLine: { show: true, lineStyle: { color: "#dcdcdc", width: 1 } },
      },
      yAxis: {
        type: "value",
        min: yMinExp,
        max: yMaxExp,
        interval: 1,
        name: "Residual",
        nameLocation: "middle",
        nameGap: 37,
        nameRotate: 90,
        nameTextStyle: { fontSize: 8, color: "#333", fontFamily: font },
        axisLine: { show: true, onZero: false, lineStyle: { color: "#777" } },
        axisTick: { show: true, length: 3, lineStyle: { color: "#777" } },
        axisLabel: { fontSize: 8, color: "#333", margin: 4, fontFamily: font, formatter: fmtExp },
        splitLine: { show: true, lineStyle: { color: "#c4c4c4", width: 1 } },
      },
      series,
    });
    return () => chart.dispose();
  }, []);
  return <div ref={ref} style={{ position: "fixed", left: 0, top: 0, width: 928, height: 452 }} />;
}
